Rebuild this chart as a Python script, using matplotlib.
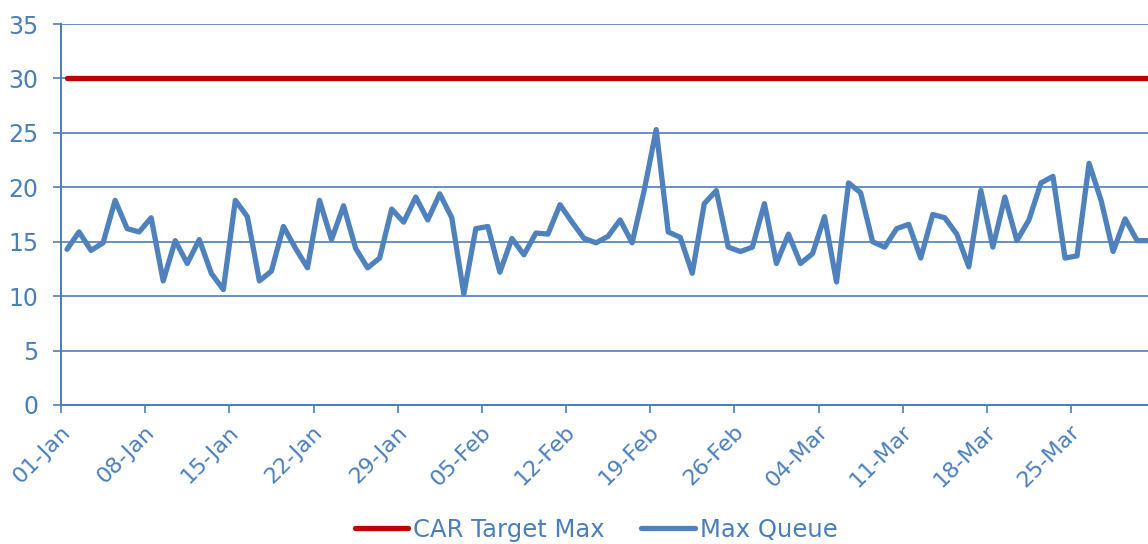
import matplotlib
matplotlib.use("Agg")
import matplotlib.pyplot as plt
import matplotlib.dates as mdates
import matplotlib.transforms as mtransforms
import numpy as np
import pandas as pd

# ---- data ----
start_date = "2024-01-01"
n_days = 91
max_queue = [14.3, 15.9, 14.2, 14.9, 18.8, 16.2, 15.9, 17.2, 11.4, 15.1,
             13.0, 15.2, 12.1, 10.6, 18.8, 17.3, 11.4, 12.3, 16.4, 14.4,
             12.6, 18.8, 15.2, 18.3, 14.4, 12.6, 13.5, 18.0, 16.8, 19.1,
             17.0, 19.4, 17.2, 10.2, 16.2, 16.4, 12.2, 15.3, 13.8, 15.8,
             15.7, 18.4, 16.8, 15.3, 14.9, 15.5, 17.0, 14.9, 19.7, 25.3,
             15.9, 15.4, 12.1, 18.5, 19.7, 14.5, 14.1, 14.5, 18.5, 13.0,
             15.7, 13.0, 13.9, 17.3, 11.3, 20.4, 19.5, 15.0, 14.5, 16.2,
             16.6, 13.5, 17.5, 17.2, 15.7, 12.7, 19.7, 14.5, 19.1, 15.1,
             17.0, 20.4, 21.0, 13.5, 13.7, 22.2, 18.8, 14.1, 17.1, 15.1,
             15.1]
car_target_max = [30] * n_days
y_ticks = [0, 5, 10, 15, 20, 25, 30, 35]
series_names = ["CAR Target Max", "Max Queue"]

dates = pd.date_range(start_date, periods=n_days, freq="D")
x_points = dates + pd.Timedelta(hours=12)  # Excel places points mid-interval

BLUE = "#4f81bd"
RED = "#c00000"
TXT = "#4a7ebb"
GRID = "#4a7ebb"

plt.rcParams['font.family'] = ['DejaVu Sans']

fig = plt.figure(figsize=(11.48, 5.44), dpi=100)
left = 61 / 1148
bottom = (544 - 405) / 544
height = (405 - 24) / 544
ax = fig.add_axes([left, bottom, 1 - left, height])

ax.plot(x_points, car_target_max, color=RED, lw=3.8, solid_capstyle="round",
        label=series_names[0], zorder=3)
ax.plot(x_points, max_queue, color=BLUE, lw=3.8, solid_joinstyle="round",
        solid_capstyle="round", label=series_names[1], zorder=4)

x0 = mdates.date2num(pd.Timestamp(start_date))
ax.set_xlim(x0, x0 + (1148 - 61) / 12.024)
ax.set_ylim(0, 35)
ax.set_yticks(y_ticks)

tick_dates = pd.date_range(start_date, periods=13, freq="7D")
ax.set_xticks(tick_dates)
ax.set_xticklabels([d.strftime("%d-%b") for d in tick_dates])

ax.grid(axis="y", color=GRID, lw=1.2, zorder=1)
ax.set_axisbelow(True)
for s in ["top", "right"]:
    ax.spines[s].set_visible(False)
for s in ["left", "bottom"]:
    ax.spines[s].set_color(GRID)
    ax.spines[s].set_linewidth(1.4)

ax.tick_params(axis="both", colors=GRID, length=5.5, width=1.2, direction="out")
ax.tick_params(axis="y", labelcolor=TXT, labelsize=17, pad=11)
ax.tick_params(axis="x", labelcolor=TXT, labelsize=16, pad=0)

offset = mtransforms.ScaledTranslation(6 / 100, -16 / 100, fig.dpi_scale_trans)
for lab in ax.get_xticklabels():
    lab.set_rotation(45)
    lab.set_ha("right")
    lab.set_va("center")
    lab.set_rotation_mode("anchor")
    lab.set_transform(lab.get_transform() + offset)

leg = fig.legend(loc="center", bbox_to_anchor=(596 / 1148, 14 / 544), ncol=2,
                 frameon=False, fontsize=17.5, handlelength=2.2, handletextpad=0.2,
                 columnspacing=1.5, borderpad=0)
for t in leg.get_texts():
    t.set_color(TXT)

fig.savefig("out.png", dpi=100)
